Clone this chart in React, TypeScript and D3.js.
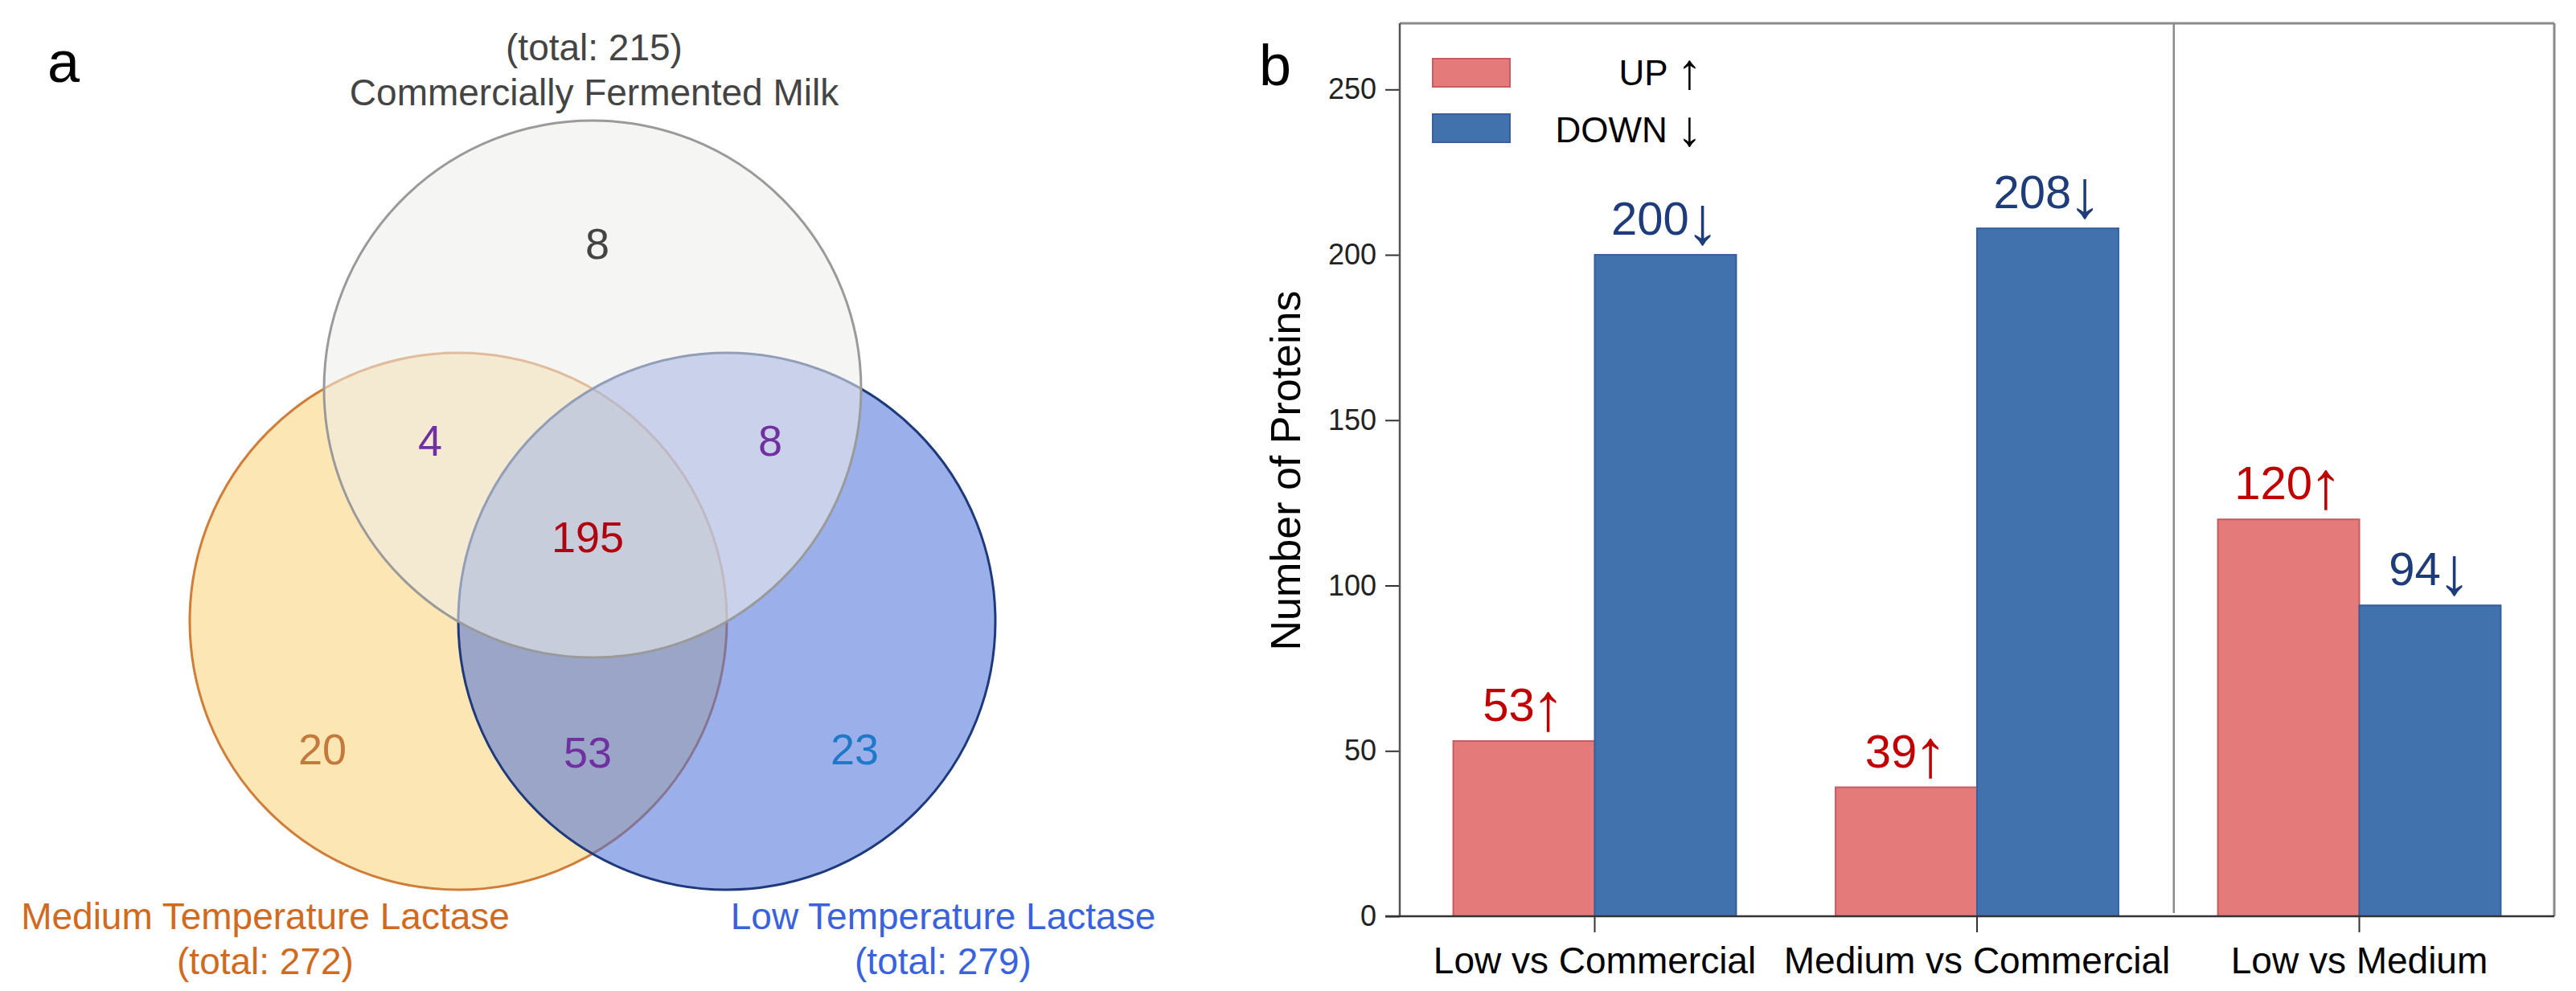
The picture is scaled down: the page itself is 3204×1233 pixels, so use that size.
import React, { useEffect, useRef } from 'react';
import * as d3 from 'd3';

// ---- panel a: Venn ----
const vennKeys = ['C', 'M', 'L'];
const vennNames = ['Commercially Fermented Milk', 'Medium Temperature Lactase', 'Low Temperature Lactase'];
const vennTotals = [215, 272, 279];
// region = which sets it belongs to (C commercial, M medium, L low)
const vennRegions = ['C', 'CM', 'CL', 'CML', 'M', 'ML', 'L'];
const vennCounts = [8, 4, 8, 195, 20, 53, 23];

// ---- panel b: bars ----
const comparisons = ['Low vs Commercial', 'Medium vs Commercial', 'Low vs Medium'];
const upCounts = [53, 39, 120];
const downCounts = [200, 208, 94];
const seriesNames = ['UP', 'DOWN'];
const seriesArrows = ['↑', '↓'];
const yTicks = [0, 50, 100, 150, 200, 250];

const FONT = '"Liberation Sans", Arial, sans-serif';
const W = 3204;
const H = 1233;

export default function App() {
  const svgRef = useRef<SVGSVGElement>(null);

  useEffect(() => {
    if (!svgRef.current) return;
    const svg = d3.select(svgRef.current);
    svg.selectAll('*').remove();

    svg.append('rect').attr('width', W).attr('height', H).attr('fill', '#fff');

    // ================= Venn =================
    const cx = 737, cy = 677, r = 334;
    const setStyle: Record<string, any> = {
      M: { dx: -167, dy: 96, fill: '#fce6b4', op: 1, stroke: '#d07d3a', color: '#cf6a1f' },
      L: { dx: 167, dy: 96, fill: 'rgb(73,111,217)', op: 0.55, stroke: '#1f3a7a', color: '#3a62dc' },
      C: { dx: 0, dy: -193, fill: 'rgb(238,238,234)', op: 0.56, stroke: '#9a9a9a', color: '#444' },
    };
    const drawOrder = ['M', 'L', 'C'];

    const venn = svg.append('g');
    venn.selectAll('circle')
      .data(drawOrder)
      .join('circle')
      .attr('cx', k => cx + setStyle[k].dx)
      .attr('cy', k => cy + setStyle[k].dy)
      .attr('r', r)
      .attr('fill', k => setStyle[k].fill)
      .attr('fill-opacity', k => setStyle[k].op)
      .attr('stroke', k => setStyle[k].stroke)
      .attr('stroke-width', 3);

    // region label layout (offsets from diagram centre) and colours
    const regionPos: Record<string, [number, number, string]> = {
      C: [6, -374, '#444444'],
      CM: [-202, -129, '#7030a0'],
      CL: [221, -129, '#7030a0'],
      CML: [-6, -9, '#b00010'],
      M: [-336, 255, '#c47a3c'],
      ML: [-6, 259, '#7030a0'],
      L: [326, 255, '#1f78c8'],
    };
    venn.selectAll('text.region')
      .data(vennRegions.map((k, i) => ({ k, v: vennCounts[i] })))
      .join('text')
      .attr('class', 'region')
      .attr('x', d => cx + regionPos[d.k][0])
      .attr('y', d => cy + regionPos[d.k][1] + 19)
      .attr('text-anchor', 'middle')
      .attr('font-family', FONT)
      .attr('font-size', 54)
      .attr('fill', d => regionPos[d.k][2])
      .text(d => d.v);

    // set titles
    const titlePos: Record<string, { x: number; y: number; totalFirst: boolean }> = {
      C: { x: 739, y: 75, totalFirst: true },
      M: { x: 330, y: 1156, totalFirst: false },
      L: { x: 1173, y: 1156, totalFirst: false },
    };
    vennKeys.forEach((k, i) => {
      const p = titlePos[k];
      const lines = p.totalFirst
        ? [`(total: ${vennTotals[i]})`, vennNames[i]]
        : [vennNames[i], `(total: ${vennTotals[i]})`];
      lines.forEach((t, j) => {
        venn.append('text')
          .attr('x', p.x)
          .attr('y', p.y + j * 56)
          .attr('text-anchor', 'middle')
          .attr('font-family', FONT)
          .attr('font-size', 46)
          .attr('fill', setStyle[k].color)
          .text(t);
      });
    });

    svg.append('text')
      .attr('x', 59).attr('y', 102)
      .attr('font-family', FONT).attr('font-size', 72)
      .attr('fill', '#000')
      .text('a');

    // ================= Bars =================
    const left = 1741, right = 3177, top = 29, bottom = 1140;
    const x0 = d3.scaleBand<string>()
      .domain(comparisons)
      .range([left, right])
      .paddingInner(0.26)
      .paddingOuter(0.14);
    const x1 = d3.scaleBand<string>()
      .domain(['up', 'down'])
      .range([0, x0.bandwidth()]);
    const y = d3.scaleLinear().domain([0, 270]).range([bottom, top]);

    const barColor = { up: '#e57a7a', down: '#4172ae' };
    const barStroke = { up: '#c85a62', down: '#35609a' };
    const labelColor = { up: '#c00000', down: '#1f3c7a' };

    const rows = comparisons.flatMap((c, i) => [
      { c, s: 'up' as const, v: upCounts[i] },
      { c, s: 'down' as const, v: downCounts[i] },
    ]);

    const bars = svg.append('g');
    bars.selectAll('rect')
      .data(rows)
      .join('rect')
      .attr('x', d => (x0(d.c) || 0) + (x1(d.s) || 0))
      .attr('y', d => y(d.v))
      .attr('width', x1.bandwidth())
      .attr('height', d => y(0) - y(d.v))
      .attr('fill', d => barColor[d.s])
      .attr('stroke', d => barStroke[d.s])
      .attr('stroke-width', 2);

    const valueLabels = bars.selectAll('text')
      .data(rows)
      .join('text')
      .attr('x', d => (x0(d.c) || 0) + (x1(d.s) || 0) + x1.bandwidth() / 2)
      .attr('y', d => y(d.v) - 25)
      .attr('text-anchor', 'middle')
      .attr('font-family', FONT)
      .attr('font-size', 58)
      .attr('fill', d => labelColor[d.s]);
    valueLabels.append('tspan').text(d => d.v);
    valueLabels.append('tspan')
      .attr('font-size', 84)
      .attr('font-weight', 300)
      .attr('dx', -4)
      .attr('dy', 11)
      .text(d => (d.s === 'up' ? '↑' : '↓'));

    // y axis
    const yAxis = svg.append('g')
      .attr('transform', `translate(${left},0)`)
      .call(d3.axisLeft(y).tickValues(yTicks).tickSize(18).tickPadding(11));
    yAxis.select('.domain').remove();
    yAxis.selectAll('line').attr('stroke', '#333').attr('stroke-width', 2);
    yAxis.selectAll('text')
      .attr('font-family', FONT)
      .attr('font-size', 36)
      .attr('fill', '#222');

    // x axis
    const xAxis = svg.append('g')
      .attr('transform', `translate(0,${bottom})`)
      .call(d3.axisBottom(x0).tickSize(20).tickPadding(18));
    xAxis.select('.domain').remove();
    xAxis.selectAll('line').attr('stroke', '#333').attr('stroke-width', 2);
    xAxis.selectAll('text')
      .attr('font-family', FONT)
      .attr('font-size', 46)
      .attr('fill', '#000');

    // frame + divider
    const frame = svg.append('g').attr('fill', 'none');
    frame.append('line').attr('x1', left).attr('x2', right).attr('y1', top).attr('y2', top)
      .attr('stroke', '#8a8a8a').attr('stroke-width', 3);
    frame.append('line').attr('x1', right).attr('x2', right).attr('y1', top).attr('y2', bottom)
      .attr('stroke', '#8a8a8a').attr('stroke-width', 3);
    frame.append('line').attr('x1', left).attr('x2', left).attr('y1', top).attr('y2', bottom)
      .attr('stroke', '#555').attr('stroke-width', 2.5);
    frame.append('line').attr('x1', left - 18).attr('x2', right).attr('y1', bottom).attr('y2', bottom)
      .attr('stroke', '#333').attr('stroke-width', 2.5);
    const divX = ((x0(comparisons[1]) || 0) + x0.bandwidth() + (x0(comparisons[2]) || 0)) / 2 + 7;
    frame.append('line').attr('x1', divX).attr('x2', divX).attr('y1', top).attr('y2', bottom - 4)
      .attr('stroke', '#8a8a8a').attr('stroke-width', 2.5);

    // legend
    const legend = svg.append('g');
    const legendKeys: ('up' | 'down')[] = ['up', 'down'];
    legendKeys.forEach((k, i) => {
      legend.append('rect')
        .attr('x', 1782).attr('y', 73 + i * 69)
        .attr('width', 96).attr('height', 35)
        .attr('fill', barColor[k])
        .attr('stroke', barStroke[k])
        .attr('stroke-width', 2);
      const t = legend.append('text')
        .attr('x', 2117).attr('y', 106 + i * 71)
        .attr('text-anchor', 'end')
        .attr('font-family', FONT)
        .attr('font-size', 44)
        .attr('fill', '#000');
      t.append('tspan').text(seriesNames[i] + ' ');
      t.append('tspan').attr('font-size', 62).attr('dy', 4).text(seriesArrows[i]);
    });

    // y label
    svg.append('text')
      .attr('transform', `translate(1599,${(top + bottom) / 2 + 1}) rotate(-90)`)
      .attr('text-anchor', 'middle')
      .attr('dominant-baseline', 'central')
      .attr('font-family', FONT)
      .attr('font-size', 52)
      .attr('fill', '#000')
      .text('Number of Proteins');

    svg.append('text')
      .attr('x', 1566).attr('y', 106)
      .attr('font-family', FONT).attr('font-size', 72)
      .attr('fill', '#000')
      .text('b');
  }, []);

  return (
    <>
      <style>{`body{margin:0}`}</style>
      <svg ref={svgRef} width={W} height={H} style={{ display: 'block' }} />
    </>
  );
}
